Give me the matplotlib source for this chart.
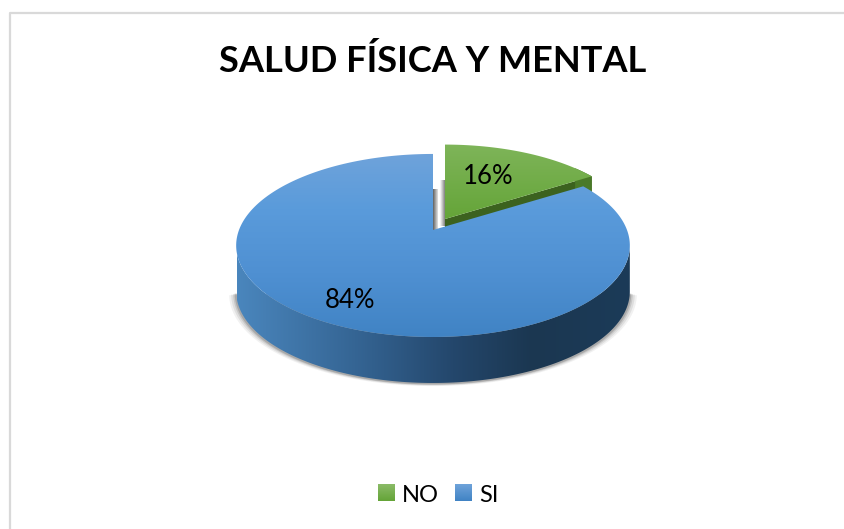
import matplotlib.pyplot as plt
import numpy as np
from matplotlib.patches import Polygon, Patch
from matplotlib.colors import LinearSegmentedColormap

plt.rcParams["font.family"] = ["Lato", "DejaVu Sans"]

title = "SALUD FÍSICA Y MENTAL"
categories = ["NO", "SI"]
values = [16, 84]
labels = ["16%", "84%"]

# pie geometry, in pixels of the picture
apex_x, apex_y = 433, 230
r_x, r_y, persp = 194, 88.9, 0.169
depth = 46
explode = [(12, -11), (0, 0)]
green_scale = 0.975
label_frac = [0.55, 0.78]
label_shift = [(-4, -3), (-1, 2)]

green_stops = [(0, "#7fb55a"), (1, "#64a437")]
blue_stops = [(0, "#6fa3da"), (0.3, "#5a9bdb"), (0.65, "#4f90d2"), (1, "#4083c4")]

fig = plt.figure(figsize=(8.44, 5.29), dpi=100)
ax = fig.add_axes([0, 0, 1, 1])
ax.set_xlim(0, 844)
ax.set_ylim(529, 0)
ax.axis("off")


def project(theta, frac=1.0):
    # theta clockwise from the top, camera tilted so the back looks smaller
    x = frac * np.sin(theta)
    y = frac * np.cos(theta)
    w = 1 + persp * y
    return r_x * x / w, -r_y * y / w


def gradient(patch, stops, extent, vertical=True, zorder=2):
    cmap = LinearSegmentedColormap.from_list("g", stops)
    g = np.linspace(0, 1, 256)
    g = g[:, None] if vertical else g[None, :]
    im = ax.imshow(g, cmap=cmap, extent=extent, aspect="auto", zorder=zorder, vmin=0, vmax=1)
    if patch is not None:
        im.set_clip_path(patch)
    return im


# chart border, only the top and left sides are in the crop
ax.plot([844, 10, 10], [13, 13, 529], color="#d9d9d9", lw=1.6, zorder=1)

angles = np.cumsum([0] + values) / sum(values) * 2 * np.pi
th = np.linspace(0, 2 * np.pi, 400)
rx, ry = project(th)
mask = ry > 15
order = np.argsort(rx[mask])
low_x, low_y = rx[mask][order], ry[mask][order]

# soft shadow below the pie
for grow, a in zip([7, 5, 3, 1.5], [0.07, 0.10, 0.15, 0.22]):
    sx = apex_x + low_x * (1 + grow / 197)
    sy = apex_y + low_y + depth + 1 + grow * 0.3
    ax.add_patch(Polygon(np.c_[sx, sy], fc="#404040", ec="none", alpha=a, zorder=1.5))

# blue side wall
top_arc = np.c_[apex_x + low_x, apex_y + low_y]
wall = Polygon(np.r_[top_arc, top_arc[::-1] + [0, depth]], fc="none", ec="none")
ax.add_patch(wall)
gradient(wall, [(0, "#4a86bd"), (0.3, "#356594"), (0.55, "#24476c"), (0.75, "#1b3751"), (1, "#1c3b58")],
         [237, 630, 385, 240], vertical=False, zorder=2)

# green slice
dx, dy = explode[0]
t = np.linspace(angles[0], angles[1], 80)
gx, gy = project(t, green_scale)
g_top = np.c_[apex_x + dx + gx, apex_y + dy + gy]
g_apex = [[apex_x + dx, apex_y + dy]]
g_side = Polygon(np.r_[g_apex, g_top[-1:], g_top[-1:] + [0, depth], np.array(g_apex) + [0, depth]],
                 fc="#3c621f", ec="none", zorder=3)
ax.add_patch(g_side)
g_rim = Polygon(np.r_[g_top[-12:], g_top[-12:][::-1] + [0, depth]], fc="#4a7a28", ec="none", zorder=3)
ax.add_patch(g_rim)
g_face = Polygon(np.r_[g_apex, g_top], fc="none", ec="none")
ax.add_patch(g_face)
gradient(g_face, green_stops, [440, 600, 222, 142], zorder=4)

# cut faces and their soft shade seen through the gap
gradient(None, [(0, "#5f5f5f"), (1, "#e4e4e4")], [apex_x, apex_x + 5, apex_y + 2, 189], vertical=False, zorder=2.5)
gradient(None, [(0, "#ffffff"), (0.6, "#b5b5b5"), (1, "#7d7d7d")], [apex_x + 7, apex_x + 12, apex_y - 4, 180],
         vertical=False, zorder=2.5)
ax.set_xlim(0, 844)
ax.set_ylim(529, 0)

# blue slice
t = np.linspace(angles[1], angles[2], 300)
bx, by = project(t)
b_face = Polygon(np.r_[[[apex_x, apex_y]], np.c_[apex_x + bx, apex_y + by]], fc="none", ec="none")
ax.add_patch(b_face)
gradient(b_face, blue_stops, [230, 635, 338, 153], zorder=5)

# value labels in the middle of each slice
for i, lab in enumerate(labels):
    mid = (angles[i] + angles[i + 1]) / 2
    lx, ly = project(mid, label_frac[i])
    ax.text(apex_x + explode[i][0] + lx + label_shift[i][0], apex_y + explode[i][1] + ly + label_shift[i][1], lab,
            ha="center", va="center", fontsize=18.5, color="black", zorder=6)

ax.text(433, 61, title, ha="center", va="center", fontsize=26.1, fontweight="bold", color="black")

handles = [Patch(fc="#6fa84a", label=categories[0]), Patch(fc="#5b97d5", label=categories[1])]
leg = ax.legend(handles=handles, ncol=2, frameon=False, fontsize=17, loc="center",
                bbox_to_anchor=(438 / 844, 1 - 495 / 529), handlelength=0.68, handleheight=0.68,
                handletextpad=0.34, columnspacing=0.68, borderpad=0)

# same gradients on the legend keys
fig.canvas.draw()
inv = ax.transData.inverted()
for p, stops in zip(leg.get_patches(), [[(0, "#8bbb68"), (1, "#64a437")], [(0, "#6fa3da"), (1, "#4083c4")]]):
    (x0, y0), (x1, y1) = inv.transform(p.get_window_extent().get_points())
    gradient(None, stops, [x0, x1, y0, y1], zorder=6)
ax.set_xlim(0, 844)
ax.set_ylim(529, 0)

fig.savefig("out.png", dpi=100)
